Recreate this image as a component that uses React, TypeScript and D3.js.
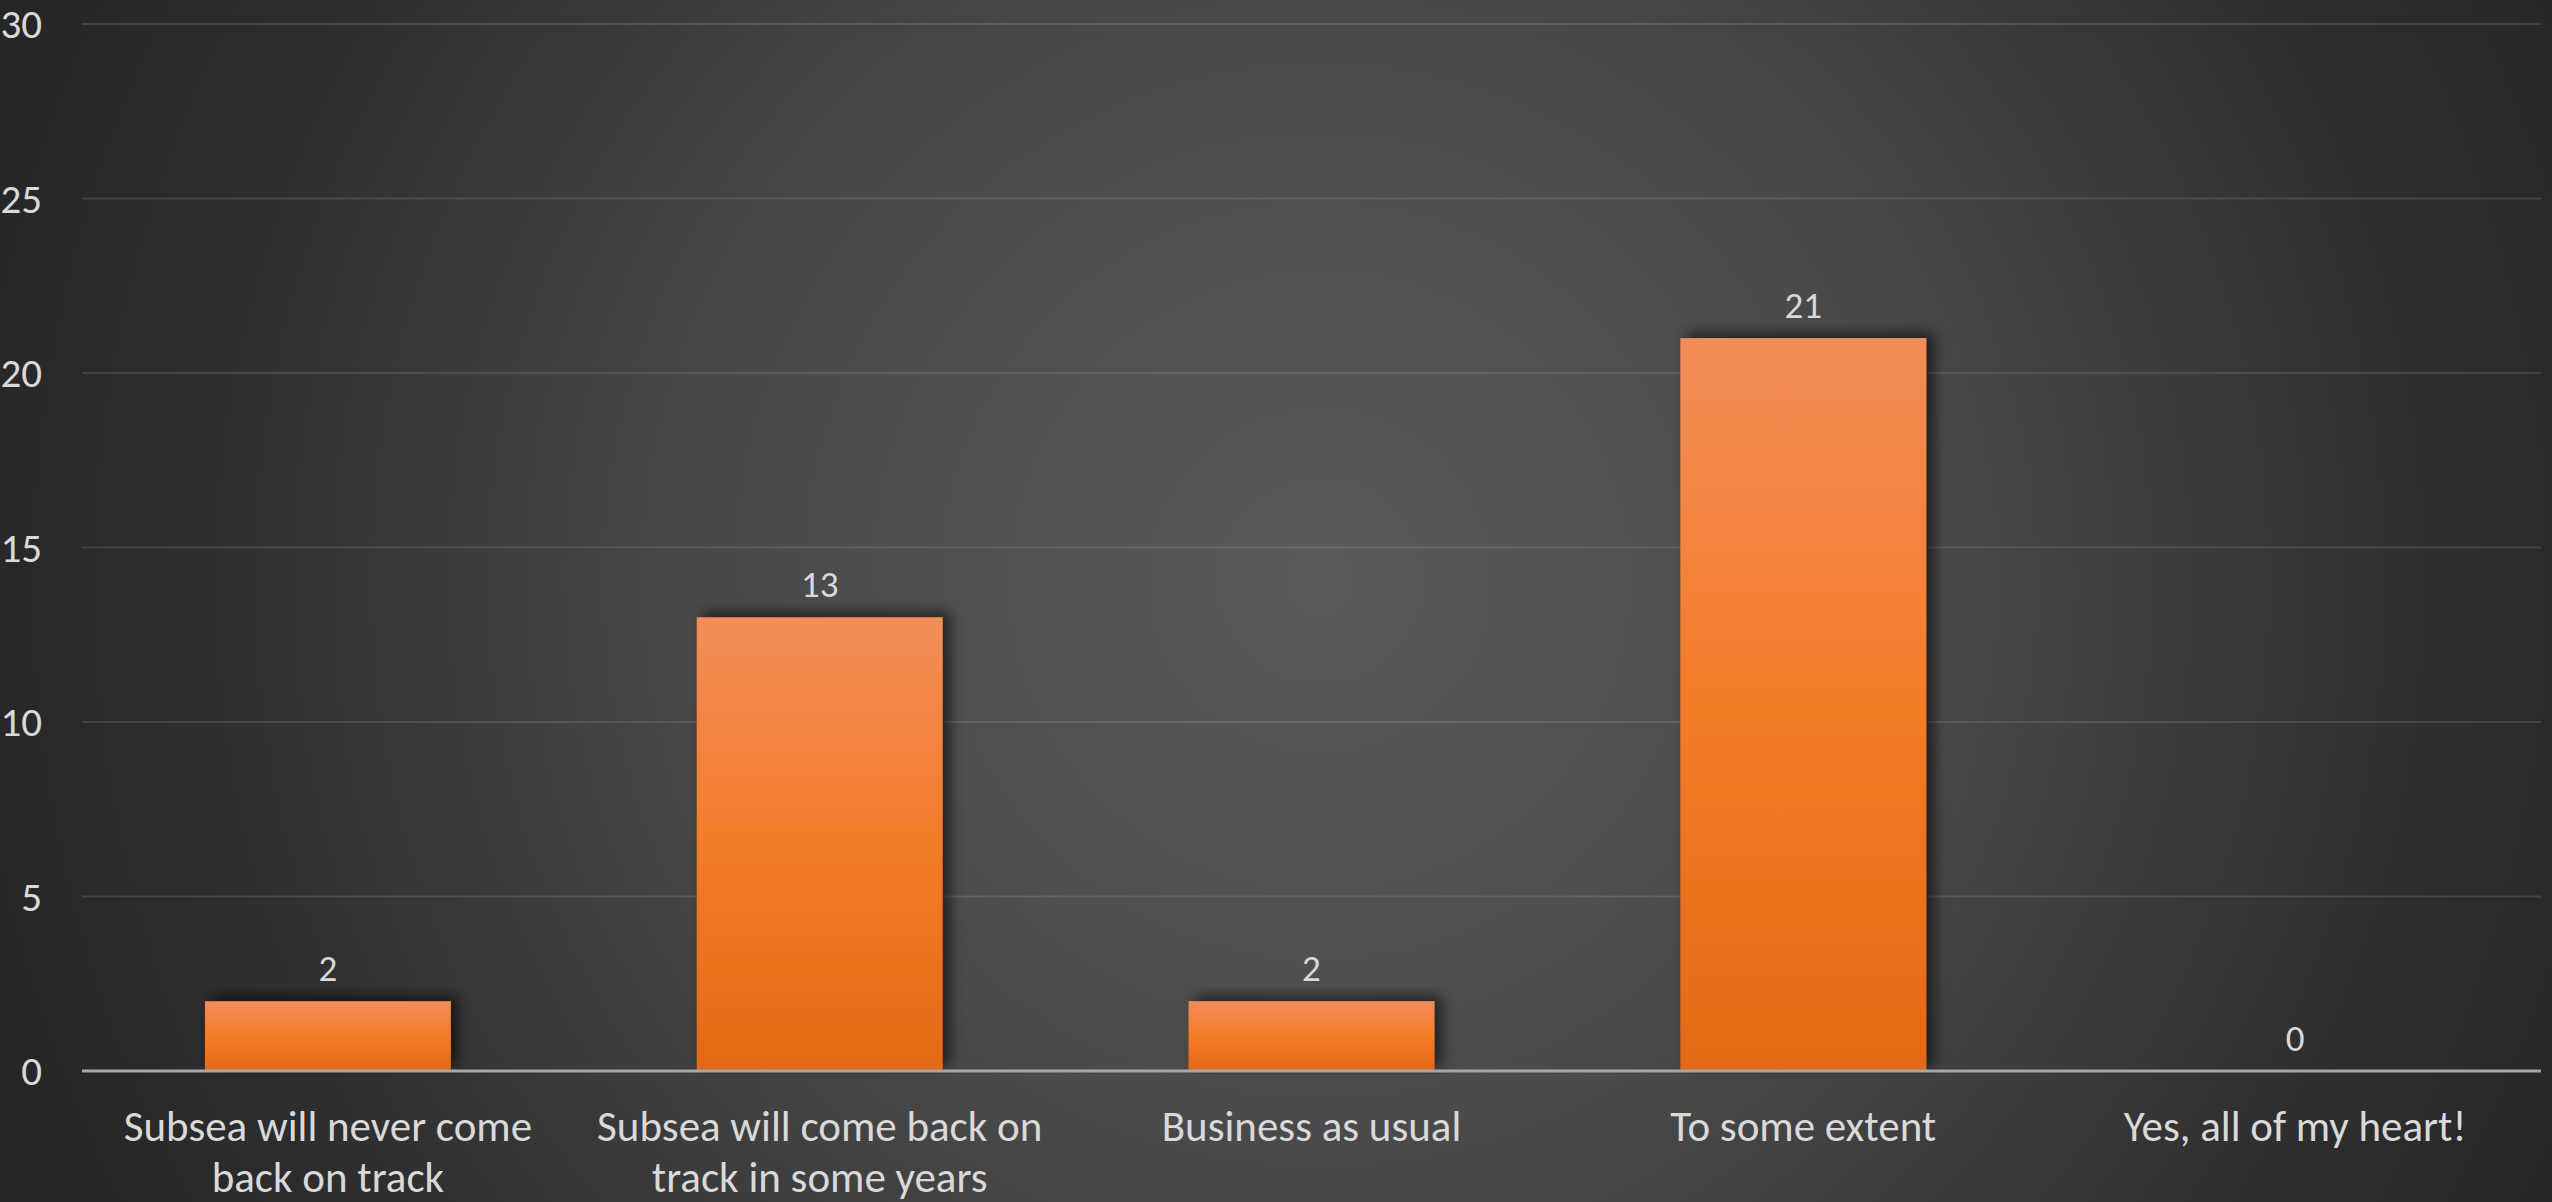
import React from 'react';
import * as d3 from 'd3';

const categoryLines: string[][] = [
  ['Subsea will never come', 'back on track'],
  ['Subsea will come back on', 'track in some years'],
  ['Business as usual'],
  ['To some extent'],
  ['Yes, all of my heart!'],
];
const values: number[] = [2, 13, 2, 21, 0];
const yTicks: number[] = [0, 5, 10, 15, 20, 25, 30];

const W = 2552;
const H = 1202;
const FONT = 'Carlito, Lato, Calibri, sans-serif';

export default function App() {
  const x = d3
    .scaleBand<number>()
    .domain(values.map((_, i) => i))
    .range([82, 2541])
    .paddingInner(0.5)
    .paddingOuter(0.25);
  const y = d3.scaleLinear().domain([0, 30]).range([1071, 24]);

  return (
    <svg
      width={W}
      height={H}
      style={{ position: 'absolute', left: 0, top: 0, display: 'block' }}
    >
      <defs>
        <radialGradient id="bg" gradientUnits="userSpaceOnUse" cx={1320} cy={580} r={1380}>
          <stop offset="0" stopColor="#5a5a5a" />
          <stop offset="0.45" stopColor="#484848" />
          <stop offset="0.8" stopColor="#2f2f2f" />
          <stop offset="1" stopColor="#262626" />
        </radialGradient>
        <linearGradient id="bar" x1="0" y1="0" x2="0" y2="1">
          <stop offset="0" stopColor="#F28D59" />
          <stop offset="0.5" stopColor="#F47C28" />
          <stop offset="1" stopColor="#E36916" />
        </linearGradient>
        <filter id="shadow" x="-20%" y="-20%" width="140%" height="140%">
          <feDropShadow dx="7" dy="-5" stdDeviation="7" floodColor="#000" floodOpacity="0.6" />
        </filter>
      </defs>
      <rect x={0} y={0} width={W} height={H} fill="url(#bg)" />
      {yTicks.map((t) => (
        <g key={t}>
          {t !== 0 && (
            <line x1={82} x2={2541} y1={y(t)} y2={y(t)} stroke="#d9d9d9" strokeOpacity={0.14} strokeWidth={2} />
          )}
          <text
            x={42}
            y={y(t)}
            textAnchor="end"
            dominantBaseline="central"
            fontFamily={FONT}
            fontSize={41}
            fill="#d9d9d9"
          >
            {t}
          </text>
        </g>
      ))}
      {values.map((v, i) =>
        v > 0 ? (
          <rect
            key={i}
            x={x(i)!}
            y={y(v)}
            width={x.bandwidth()}
            height={y(0) - y(v)}
            fill="url(#bar)"
            filter="url(#shadow)"
          />
        ) : null
      )}
      <line x1={82} x2={2541} y1={y(0)} y2={y(0)} stroke="#a6a6a6" strokeWidth={3} />
      {values.map((v, i) => (
        <text
          key={i}
          x={x(i)! + x.bandwidth() / 2}
          y={y(v) - 20}
          textAnchor="middle"
          fontFamily={FONT}
          fontSize={37}
          fill="#d9d9d9"
        >
          {v}
        </text>
      ))}
      {categoryLines.map((lines, i) => (
        <text
          key={i}
          x={x(i)! + x.bandwidth() / 2}
          textAnchor="middle"
          fontFamily={FONT}
          fontSize={43}
          fill="#d9d9d9"
        >
          {lines.map((l, j) => (
            <tspan key={j} x={x(i)! + x.bandwidth() / 2} y={1141 + j * 51}>
              {l}
            </tspan>
          ))}
        </text>
      ))}
    </svg>
  );
}
